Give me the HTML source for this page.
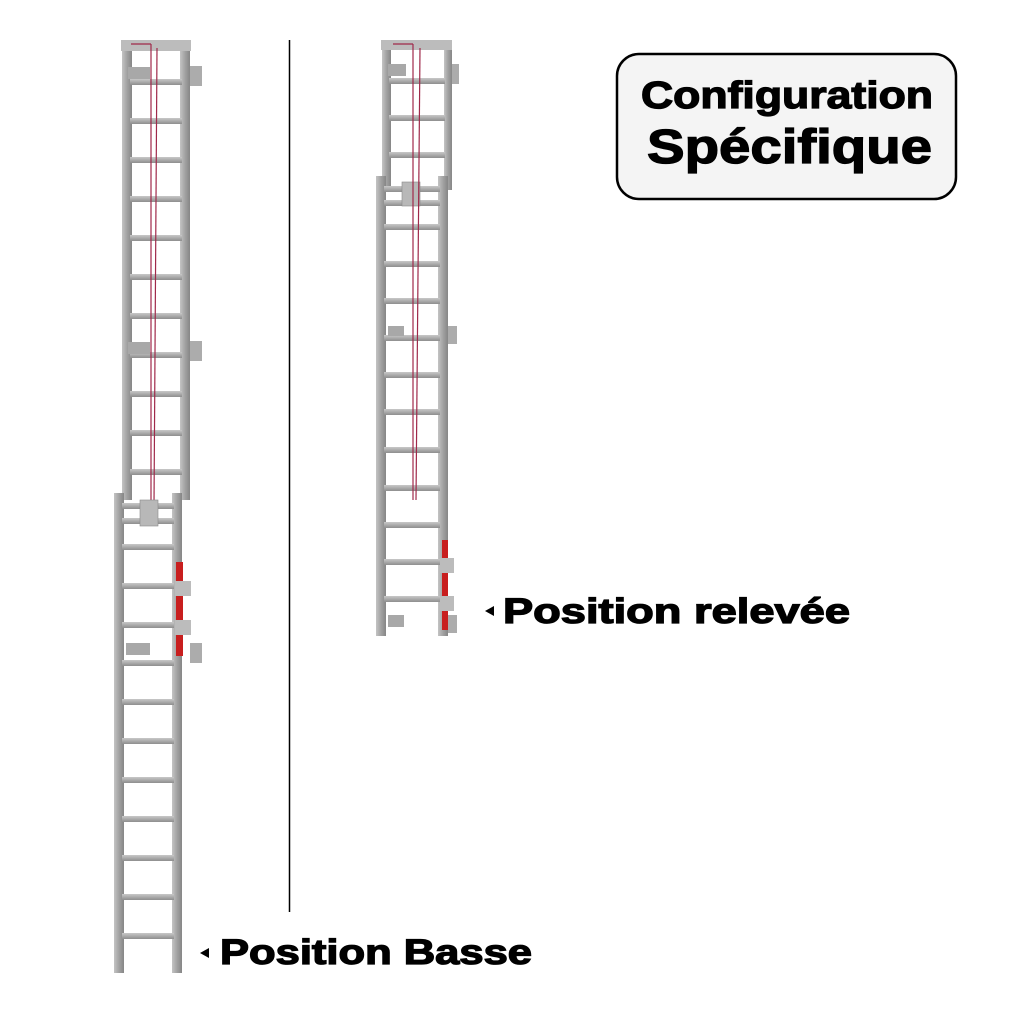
<!DOCTYPE html>
<html><head><meta charset="utf-8"><style>html,body{margin:0;padding:0;background:#fff}svg{display:block}</style></head>
<body>
<svg width="1024" height="1024" viewBox="0 0 1024 1024" xmlns="http://www.w3.org/2000/svg" font-family="Liberation Sans, sans-serif" font-weight="bold">
<defs>
<linearGradient id="rail" x1="0" x2="1"><stop offset="0" stop-color="#c4c4c4"/><stop offset="0.5" stop-color="#a2a2a2"/><stop offset="1" stop-color="#868686"/></linearGradient>
<linearGradient id="rung" x1="0" y1="0" x2="0" y2="1"><stop offset="0" stop-color="#c8c8c8"/><stop offset="1" stop-color="#8e8e8e"/></linearGradient>
</defs>
<rect width="1024" height="1024" fill="#fff"/>
<line x1="289.5" y1="40" x2="289.5" y2="912" stroke="#000" stroke-width="1.5"/>

<!-- LEFT UPPER LADDER -->
<g>
<rect x="122" y="40" width="10" height="460" fill="url(#rail)"/>
<rect x="180" y="40" width="10" height="460" fill="url(#rail)"/>
<rect x="121" y="40" width="70" height="11" fill="#bcbcbc"/>
<g fill="url(#rung)">
<rect x="130" y="79" width="52" height="6"/><rect x="130" y="118" width="52" height="6"/><rect x="130" y="157" width="52" height="6"/><rect x="130" y="196" width="52" height="6"/><rect x="130" y="235" width="52" height="6"/><rect x="130" y="274" width="52" height="6"/><rect x="130" y="313" width="52" height="6"/><rect x="130" y="352" width="52" height="6"/><rect x="130" y="391" width="52" height="6"/><rect x="130" y="430" width="52" height="6"/><rect x="130" y="469" width="52" height="6"/>
</g>
<rect x="128" y="67" width="22" height="12" fill="#a8a8a8"/>
<rect x="190" y="66" width="12" height="20" fill="#acacac"/>
<rect x="128" y="342" width="22" height="12" fill="#a8a8a8"/>
<rect x="190" y="341" width="12" height="20" fill="#acacac"/>
<line x1="151" y1="44" x2="151" y2="505" stroke="#a0294a" stroke-width="1.2"/>
<line x1="157" y1="48" x2="154" y2="505" stroke="#a0294a" stroke-width="1.2"/>
<line x1="131" y1="44" x2="151" y2="44" stroke="#a0294a" stroke-width="1.2"/>
</g>
<!-- LEFT LOWER LADDER -->
<g>
<rect x="114" y="493" width="10" height="480" fill="url(#rail)"/>
<rect x="172" y="493" width="10" height="480" fill="url(#rail)"/>
<g fill="url(#rung)">
<rect x="122" y="503" width="52" height="6"/><rect x="122" y="518" width="52" height="6"/>
<rect x="122" y="544" width="52" height="6"/><rect x="122" y="583" width="52" height="6"/><rect x="122" y="622" width="52" height="6"/><rect x="122" y="660" width="52" height="6"/><rect x="122" y="699" width="52" height="6"/><rect x="122" y="738" width="52" height="6"/><rect x="122" y="777" width="52" height="6"/><rect x="122" y="816" width="52" height="6"/><rect x="122" y="855" width="52" height="6"/><rect x="122" y="894" width="52" height="6"/><rect x="122" y="933" width="52" height="6"/>
</g>
<rect x="140" y="500" width="18" height="26" fill="#b8b8b8" stroke="#888" stroke-width="0.6"/>
<rect x="176" y="562" width="7" height="94" fill="#c81e1e"/>
<rect x="175" y="581" width="16" height="15" fill="#bcbcbc"/>
<rect x="175" y="620" width="16" height="15" fill="#bcbcbc"/>
<rect x="126" y="643" width="24" height="12" fill="#a8a8a8"/>
<rect x="190" y="643" width="12" height="20" fill="#acacac"/>
</g>

<!-- RIGHT UPPER LADDER -->
<g>
<rect x="382" y="40" width="9" height="150" fill="url(#rail)"/>
<rect x="444" y="40" width="8" height="150" fill="url(#rail)"/>
<rect x="381" y="40" width="71" height="10" fill="#bcbcbc"/>
<g fill="url(#rung)">
<rect x="389" y="78" width="56" height="6"/><rect x="389" y="115" width="56" height="6"/><rect x="389" y="152" width="56" height="6"/>
</g>
<rect x="388" y="64" width="18" height="12" fill="#a8a8a8"/>
<rect x="452" y="64" width="7" height="20" fill="#acacac"/>
</g>
<!-- RIGHT LOWER LADDER -->
<g>
<rect x="376" y="176" width="10" height="460" fill="url(#rail)"/>
<rect x="438" y="176" width="10" height="460" fill="url(#rail)"/>
<g fill="url(#rung)">
<rect x="384" y="186" width="56" height="6"/><rect x="384" y="200" width="56" height="6"/>
<rect x="384" y="224" width="56" height="6"/><rect x="384" y="261" width="56" height="6"/><rect x="384" y="298" width="56" height="6"/><rect x="384" y="335" width="56" height="6"/><rect x="384" y="372" width="56" height="6"/><rect x="384" y="409" width="56" height="6"/><rect x="384" y="447" width="56" height="6"/><rect x="384" y="485" width="56" height="6"/><rect x="384" y="522" width="56" height="6"/><rect x="384" y="559" width="56" height="6"/><rect x="384" y="596" width="56" height="6"/>
</g>
<rect x="402" y="182" width="18" height="24" fill="#b8b8b8" stroke="#888" stroke-width="0.6"/>
<rect x="388" y="326" width="16" height="10" fill="#a8a8a8"/>
<rect x="448" y="326" width="9" height="18" fill="#acacac"/>
<rect x="442" y="540" width="6" height="90" fill="#c81e1e"/>
<rect x="440" y="558" width="14" height="15" fill="#bcbcbc"/>
<rect x="440" y="596" width="14" height="15" fill="#bcbcbc"/>
<rect x="388" y="615" width="16" height="12" fill="#a8a8a8"/>
<rect x="448" y="615" width="9" height="18" fill="#acacac"/>
<line x1="413" y1="44" x2="413" y2="500" stroke="#a0294a" stroke-width="1.2"/>
<line x1="420" y1="48" x2="416" y2="500" stroke="#a0294a" stroke-width="1.2"/>
<line x1="393" y1="44" x2="413" y2="44" stroke="#a0294a" stroke-width="1.2"/>
</g>

<rect x="617" y="54" width="339" height="145" rx="22" fill="#f4f4f4" stroke="#000" stroke-width="2.5"/>
<g fill="#000" stroke="#000" stroke-width="1.3">
<text x="641" y="108" font-size="38" textLength="292" lengthAdjust="spacingAndGlyphs">Configuration</text>
<text x="647" y="163" font-size="48" textLength="285" lengthAdjust="spacingAndGlyphs">Spécifique</text>
<text x="503" y="623" font-size="35" textLength="347" lengthAdjust="spacingAndGlyphs">Position relevée</text>
<text x="220" y="964" font-size="35" textLength="312" lengthAdjust="spacingAndGlyphs">Position Basse</text>
</g>
<polygon points="485,611 494,606 494,616" fill="#000"/>
<polygon points="200,953 209,948 209,958" fill="#000"/>
</svg>
</body></html>
